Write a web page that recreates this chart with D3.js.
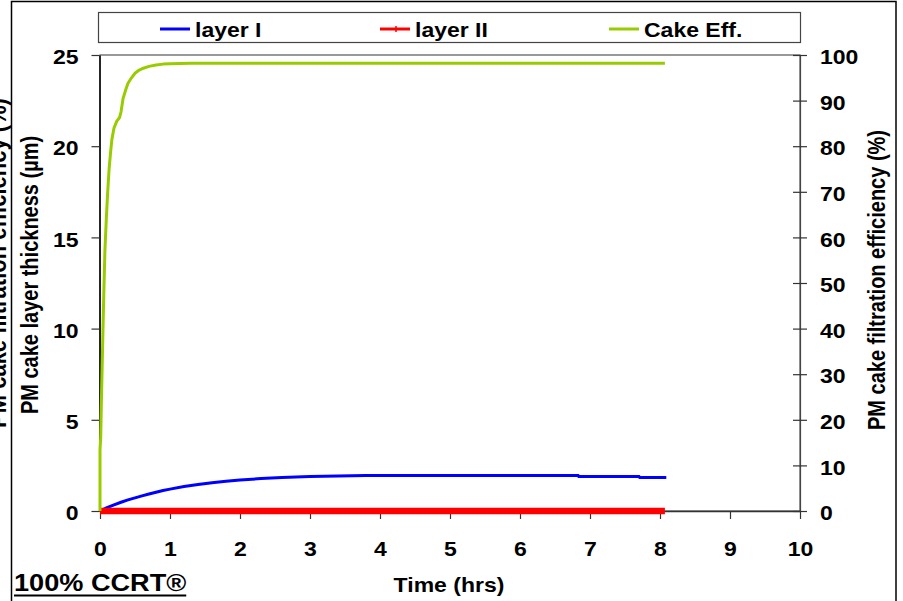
<!DOCTYPE html>
<html>
<head>
<meta charset="utf-8">
<script src="https://cdn.jsdelivr.net/npm/d3@7/dist/d3.min.js"></script>
<style>
  body { margin: 0; background: #fff; }
  text { font-family: "Liberation Sans", Arial, Helvetica, sans-serif; font-weight: bold; fill: #000; }
</style>
</head>
<body>
<svg id="chart" width="903" height="601"></svg>
<script>
// ---- data ----
const timeTicks = [0, 1, 2, 3, 4, 5, 6, 7, 8, 9, 10];
const thicknessTicks = [0, 5, 10, 15, 20, 25];
const efficiencyTicks = [0, 10, 20, 30, 40, 50, 60, 70, 80, 90, 100];

const seriesNames = ["layer I", "layer II", "Cake Eff."];

// layer I thickness (µm) vs time (hrs)
const layer1Time = [0, 0.1, 0.2, 0.3, 0.4, 0.5, 0.6, 0.7, 0.8, 0.9, 1.0, 1.2, 1.4, 1.6, 1.8, 2.0, 2.3, 2.6, 3.0, 3.4, 3.8, 4.3, 5.0, 6.0, 6.83, 6.84, 7.7, 7.71, 8.09];
const layer1Thickness = [0, 0.18, 0.34, 0.48, 0.61, 0.72, 0.83, 0.93, 1.03, 1.12, 1.2, 1.34, 1.45, 1.55, 1.63, 1.70, 1.78, 1.84, 1.89, 1.92, 1.94, 1.95, 1.95, 1.95, 1.95, 1.89, 1.89, 1.84, 1.84];

// layer II thickness (µm) vs time (hrs)
const layer2Time = [0, 1, 2, 3, 4, 5, 6, 7, 8.07];
const layer2Thickness = [0, 0, 0, 0, 0, 0, 0, 0, 0];

// cake filtration efficiency (%) vs time (hrs)
const effTime = [0, 0, 0.01, 0.02, 0.03, 0.04, 0.055, 0.07, 0.09, 0.11, 0.13, 0.15, 0.17, 0.2, 0.24, 0.28, 0.3, 0.33, 0.37, 0.4, 0.45, 0.5, 0.56, 0.62, 0.7, 0.8, 0.9, 1.0, 1.3, 1.6, 2.0, 3, 4, 5, 6, 7, 8.07];
const effValue = [0, 13.5, 16, 24, 31, 38, 48, 57, 64, 70, 75, 78.5, 81.5, 84, 85.5, 86.3, 87.5, 90.5, 92.5, 93.8, 95, 96, 96.7, 97.1, 97.5, 97.8, 98, 98.1, 98.2, 98.2, 98.2, 98.2, 98.2, 98.2, 98.2, 98.2, 98.2];

// ---- drawing ----
const colors = ["#0000FF", "#FF0000", "#99CC00"];
const SX = 1.15; // horizontal widening applied to horizontal labels

const svg = d3.select("#chart");
const plot = { left: 100, right: 800, top: 55, bottom: 511 };

const x = d3.scaleLinear().domain([0, 10]).range([plot.left, plot.right]);
const yL = d3.scaleLinear().domain([0, 25]).range([plot.bottom, plot.top]);
const yR = d3.scaleLinear().domain([0, 100]).range([plot.bottom, plot.top]);

function label(parent, tx, ty, str, anchor, size, rot, sx) {
  const s = sx || SX;
  const t = parent.append("text")
    .attr("text-anchor", anchor)
    .attr("font-size", size)
    .text(str);
  if (rot) t.attr("transform", `translate(${tx},${ty}) rotate(-90) scale(1,${s})`);
  else t.attr("transform", `translate(${tx},${ty}) scale(${s},1)`);
  return t;
}

// outer frame
svg.append("rect")
  .attr("x", 11.5).attr("y", 1.5)
  .attr("width", 884.5).attr("height", 620)
  .attr("fill", "none").attr("stroke", "#000").attr("stroke-width", 1.5);

// secondary title, partly outside the frame on the left
label(svg, 6, 263, "PM cake filtration efficiency (%)", "middle", 22, true);

// plot area border
svg.append("rect")
  .attr("x", plot.left).attr("y", plot.top)
  .attr("width", plot.right - plot.left).attr("height", plot.bottom - plot.top)
  .attr("fill", "none").attr("stroke", "#555").attr("stroke-width", 1.2);

// left axis
const gL = svg.append("g").attr("transform", `translate(${plot.left - 0.5},0)`)
  .call(d3.axisLeft(yL).tickValues(thicknessTicks).tickSizeInner(8).tickSizeOuter(0).tickFormat(d3.format("d")));
gL.select(".domain").attr("stroke", "#000").attr("stroke-width", 1.5);
gL.selectAll(".tick line").attr("stroke", "#333").attr("stroke-width", 1.2);
gL.selectAll(".tick text").each(function () {
  d3.select(this).attr("x", null).attr("dy", "0.38em").attr("font-size", 20)
    .attr("transform", `translate(-21,1) scale(${SX},1)`);
});
gL.attr("font-family", null).attr("font-size", null);

// right axis (ticks cross the axis line)
const gR = svg.append("g").attr("transform", `translate(${plot.right},0)`)
  .call(d3.axisRight(yR).tickValues(efficiencyTicks).tickSizeInner(7).tickSizeOuter(0).tickFormat(d3.format("d")));
gR.select(".domain").attr("stroke", "#444").attr("stroke-width", 1.2);
gR.selectAll(".tick line").attr("x1", -7).attr("stroke", "#333").attr("stroke-width", 1.2);
gR.selectAll(".tick text").each(function () {
  d3.select(this).attr("x", null).attr("dy", "0.38em").attr("font-size", 20)
    .attr("transform", `translate(20,1) scale(${SX},1)`);
});
gR.attr("font-family", null).attr("font-size", null);

// bottom axis
const gB = svg.append("g").attr("transform", `translate(0,${plot.bottom})`)
  .call(d3.axisBottom(x).tickValues(timeTicks).tickSizeInner(8).tickSizeOuter(0).tickFormat(d3.format("d")));
gB.select(".domain").attr("stroke", "#333").attr("stroke-width", 1.5);
gB.selectAll(".tick line").attr("stroke", "#333").attr("stroke-width", 1.2);
gB.selectAll(".tick text").each(function () {
  d3.select(this).attr("y", null).attr("dy", null).attr("font-size", 20)
    .attr("transform", `translate(0,45) scale(${SX},1)`);
});
gB.attr("font-family", null).attr("font-size", null);

// series
const lineL = d3.line().x(d => x(d[0])).y(d => yL(d[1]));
const lineR = d3.line().x(d => x(d[0])).y(d => yR(d[1]));

svg.append("path")
  .datum(layer1Time.map((t, i) => [t, layer1Thickness[i]]))
  .attr("d", lineL).attr("fill", "none").attr("stroke", colors[0]).attr("stroke-width", 3);

svg.append("path")
  .datum(layer2Time.map((t, i) => [t, layer2Thickness[i]]))
  .attr("d", lineL).attr("fill", "none").attr("stroke", colors[1]).attr("stroke-width", 6.5);

svg.append("path")
  .datum(effTime.map((t, i) => [t, effValue[i]]))
  .attr("d", lineR).attr("fill", "none").attr("stroke", colors[2]).attr("stroke-width", 3)
  .attr("stroke-linejoin", "round");

// axis titles
label(svg, 38, 275, "PM cake layer thickness (µm)", "middle", 20, true);
label(svg, 885, 280, "PM cake filtration efficiency (%)", "middle", 20, true);
label(svg, 449, 592, "Time (hrs)", "middle", 20, false);

// corner caption with underline
const CAP_SX = 1.18;
const cap = label(svg, 14, 591, "100% CCRT®", "start", 23, false, CAP_SX);
const capW = cap.node().getComputedTextLength() * CAP_SX;
svg.append("line")
  .attr("x1", 14).attr("x2", 14 + capW)
  .attr("y1", 595.5).attr("y2", 595.5)
  .attr("stroke", "#000").attr("stroke-width", 2);

// legend
const lg = svg.append("g");
lg.append("rect").attr("x", 98.5).attr("y", 12.5).attr("width", 702).attr("height", 30)
  .attr("fill", "#fff").attr("stroke", "#444").attr("stroke-width", 1.2);
const legendX = [160, 380, 609];
seriesNames.forEach((name, i) => {
  const lx = legendX[i];
  lg.append("line").attr("x1", lx).attr("x2", lx + 30).attr("y1", 29).attr("y2", 29)
    .attr("stroke", colors[i]).attr("stroke-width", 3);
  if (i === 1) {
    lg.append("line").attr("x1", lx + 16).attr("x2", lx + 16).attr("y1", 26).attr("y2", 32)
      .attr("stroke", colors[i]).attr("stroke-width", 1.5);
  }
  label(lg, lx + 35, 36.5, name, "start", 20, false);
});
</script>
</body>
</html>
